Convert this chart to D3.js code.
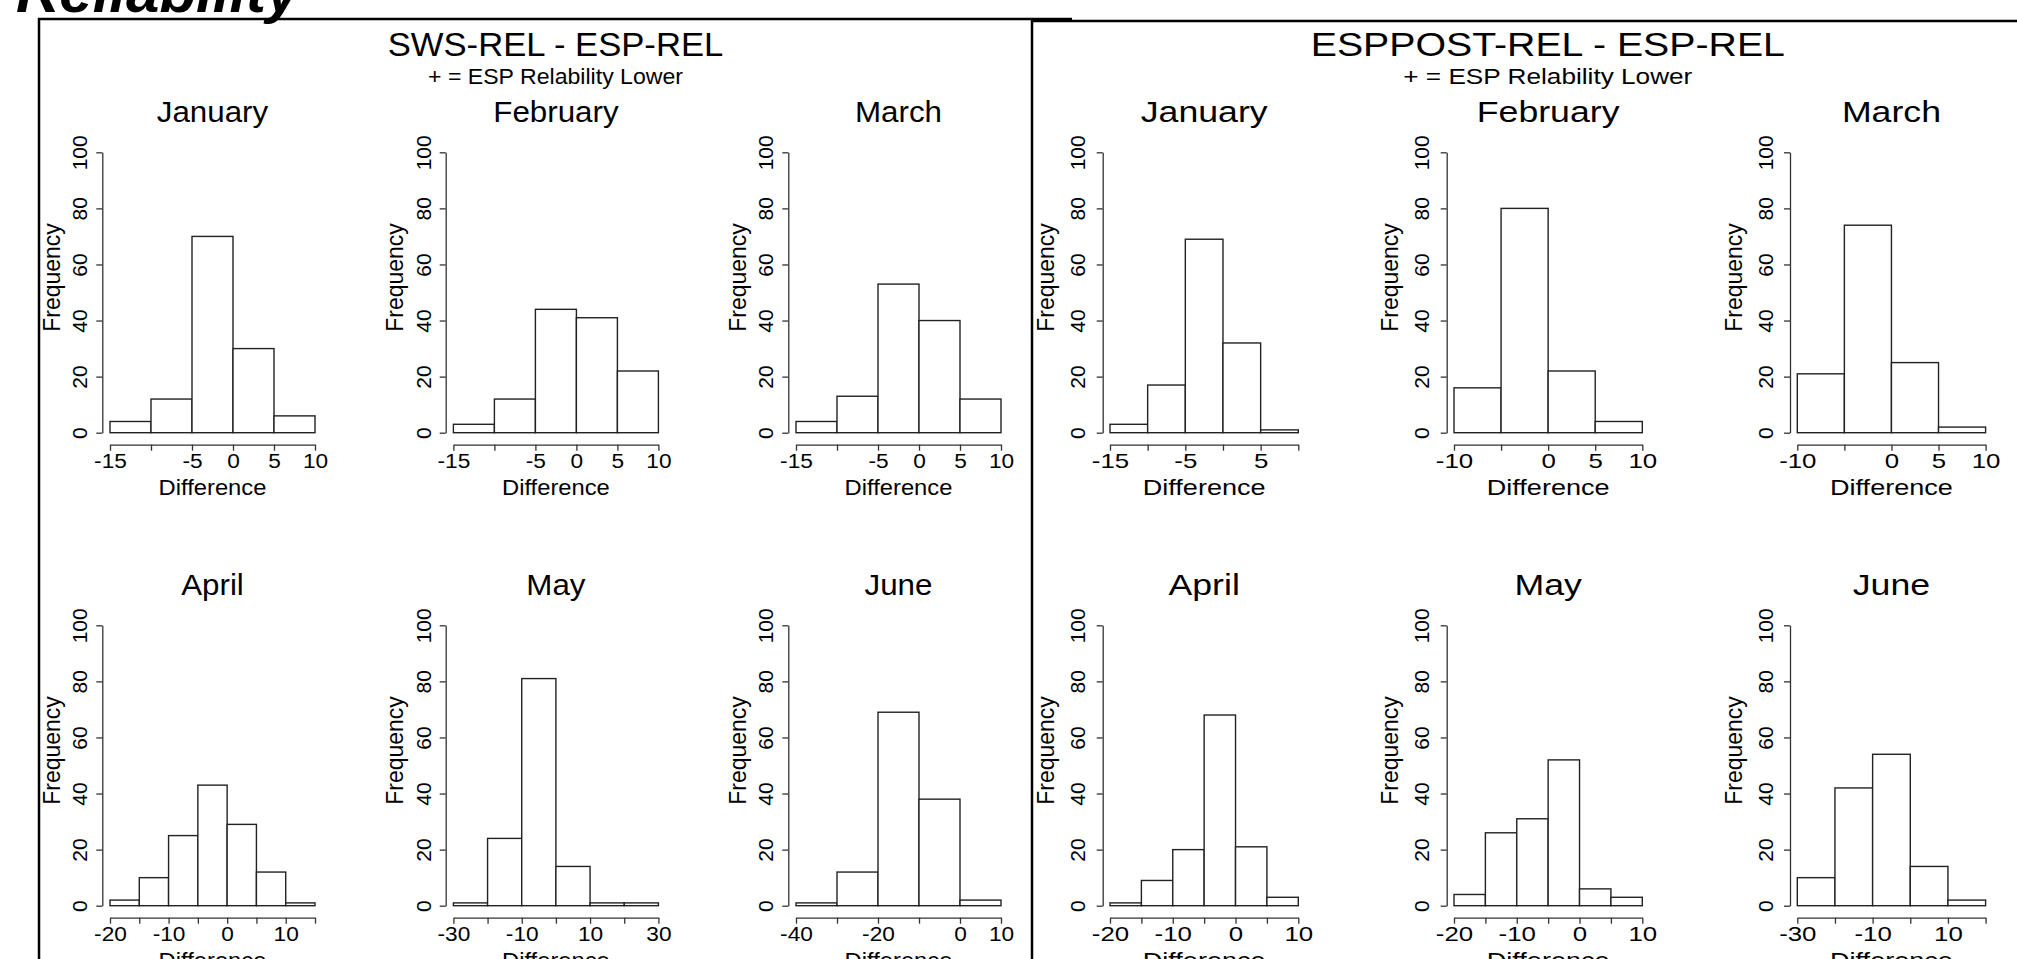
<!DOCTYPE html>
<html lang="en">
<head>
<meta charset="UTF-8">
<title>Reliability</title>
<style>
  * { margin: 0; padding: 0; }
  body { background: #fff; overflow: hidden; }
  svg { display: block; font-family: 'Liberation Sans', Arial, Helvetica, sans-serif; }
</style>
</head>
<body>
<div id="chart"></div>
<script src="https://cdn.jsdelivr.net/npm/d3@7"></script>
<script>
const months = ['January', 'February', 'March', 'April', 'May', 'June']
const yTicks = [0, 20, 40, 60, 80, 100]

// SWS-REL - ESP-REL : bin edges, counts, labelled x ticks
const swsBreaks = [
  [-15, -10, -5, 0, 5, 10],
  [-15, -10, -5, 0, 5, 10],
  [-15, -10, -5, 0, 5, 10],
  [-20, -15, -10, -5, 0, 5, 10, 15],
  [-30, -20, -10, 0, 10, 20, 30],
  [-40, -30, -20, -10, 0, 10]
]
const swsCounts = [
  [4, 12, 70, 30, 6],
  [3, 12, 44, 41, 22],
  [4, 13, 53, 40, 12],
  [2, 10, 25, 43, 29, 12, 1],
  [1, 24, 81, 14, 1, 1],
  [1, 12, 69, 38, 2]
]
const swsLabels = [
  [-15, -5, 0, 5, 10],
  [-15, -5, 0, 5, 10],
  [-15, -5, 0, 5, 10],
  [-20, -10, 0, 10],
  [-30, -10, 10, 30],
  [-40, -20, 0, 10]
]

// ESPPOST-REL - ESP-REL
const postBreaks = [
  [-15, -10, -5, 0, 5, 10],
  [-10, -5, 0, 5, 10],
  [-10, -5, 0, 5, 10],
  [-20, -15, -10, -5, 0, 5, 10],
  [-20, -15, -10, -5, 0, 5, 10],
  [-30, -20, -10, 0, 10, 20]
]
const postCounts = [
  [3, 17, 69, 32, 1],
  [16, 80, 22, 4],
  [21, 74, 25, 2],
  [1, 9, 20, 68, 21, 3],
  [4, 26, 31, 52, 6, 3],
  [10, 42, 54, 14, 2]
]
const postLabels = [
  [-15, -5, 5],
  [-10, 0, 5, 10],
  [-10, 0, 5, 10],
  [-20, -10, 0, 10],
  [-20, -10, 0, 10],
  [-30, -10, 10]
]

const width = 2017
const height = 959
const plotH = 280.4
const rowY0 = [432.7, 905.7]

const blocks = [
  { title: 'SWS-REL - ESP-REL', breaks: swsBreaks, counts: swsCounts, labels: swsLabels,
    axisX: [102.3, 445.7, 788.3], gap: 7.7, plotW: 205, sx: 1.08, tsx: 1.05, labOff: 15, freqOff: 42.5 },
  { title: 'ESPPOST-REL - ESP-REL', breaks: postBreaks, counts: postCounts, labels: postLabels,
    axisX: [1102.7, 1446.7, 1790], gap: 7.3, plotW: 188.3, sx: 1.23, tsx: 1.19, labOff: 17.5, freqOff: 48.5 }
]

let svg = d3.select('#chart')
  .append('svg')
  .attr('width', width)
  .attr('height', height)

svg.append('rect').attr('width', width).attr('height', height).attr('fill', '#fff')

// horizontal text, stretched sideways like the original
function label (g, str, cx, by, size, sx) {
  return g.append('text')
    .attr('transform', `translate(${cx},${by}) scale(${sx},1)`)
    .attr('text-anchor', 'middle')
    .attr('font-size', size)
    .attr('fill', '#000')
    .text(str)
}

// page heading, cut by the top edge
svg.append('text')
  .attr('x', 16).attr('y', 12)
  .attr('font-size', 60)
  .attr('font-style', 'italic')
  .attr('font-weight', 'bold')
  .text('Reliability')

// frames
svg.append('path')
  .attr('d', 'M39,959 V19 H1072')
  .attr('fill', 'none').attr('stroke', '#000').attr('stroke-width', 2.5)
svg.append('path')
  .attr('d', 'M1032,959 V21 H2017')
  .attr('fill', 'none').attr('stroke', '#000').attr('stroke-width', 2.5)

function hist (g, b, i) {
  const col = i % 3
  const row = Math.floor(i / 3)
  const breaks = b.breaks[i]
  const counts = b.counts[i]
  const labs = b.labels[i]
  const ax = b.axisX[col]
  const x0 = ax + b.gap
  const y0 = rowY0[row]

  const x = d3.scaleLinear()
    .domain([breaks[0], breaks[breaks.length - 1]])
    .range([x0, x0 + b.plotW])
  const y = d3.scaleLinear()
    .domain([0, 100])
    .range([y0, y0 - plotH])

  const bins = counts.map((n, k) => ({ a: breaks[k], b: breaks[k + 1], n: n }))

  g.append('g')
    .selectAll('rect')
    .data(bins)
    .join('rect')
    .attr('x', d => x(d.a))
    .attr('width', d => x(d.b) - x(d.a))
    .attr('y', d => y(d.n))
    .attr('height', d => y(0) - y(d.n))
    .attr('fill', '#fff')
    .attr('stroke', '#222')
    .attr('stroke-width', 1.4)

  // x axis
  const gx = g.append('g')
    .attr('transform', `translate(0,${y0 + 12})`)
    .call(d3.axisBottom(x)
      .tickValues(breaks)
      .tickSize(6)
      .tickSizeOuter(0)
      .tickFormat(d => labs.includes(d) ? String(d) : ''))
  gx.attr('font-size', null).attr('font-family', null)
  gx.selectAll('path, line').attr('stroke', '#333').attr('stroke-width', 1.3)
  gx.selectAll('text')
    .attr('y', 0).attr('dy', null)
    .attr('transform', `translate(0,23.3) scale(${b.sx},1)`)
    .attr('font-size', 21)
    .attr('fill', '#000')

  // y axis
  const gy = g.append('g')
    .attr('transform', `translate(${ax},0)`)
    .call(d3.axisLeft(y)
      .tickValues(yTicks)
      .tickSize(6)
      .tickSizeOuter(0))
  gy.attr('font-size', null).attr('font-family', null)
  gy.selectAll('path, line').attr('stroke', '#333').attr('stroke-width', 1.3)
  gy.selectAll('text')
    .attr('x', 0).attr('dy', null)
    .attr('transform', `translate(${-b.labOff},0) rotate(-90)`)
    .attr('text-anchor', 'middle')
    .attr('font-size', 21)
    .attr('fill', '#000')

  const cx = x0 + b.plotW / 2
  label(g, months[i], cx, y(100) - 30.6, 29, b.sx)
  label(g, 'Difference', cx, y0 + 62.3, 22, b.sx)

  g.append('text')
    .attr('transform', `translate(${ax - b.freqOff},${(y(0) + y(100)) / 2 - 15}) rotate(-90)`)
    .attr('text-anchor', 'middle')
    .attr('font-size', 23)
    .text('Frequency')
}

blocks.forEach(b => {
  let g = svg.append('g')
  const mid = (b.axisX[0] + b.gap + b.axisX[2] + b.gap + b.plotW) / 2
  label(g, b.title, mid, 56, 33, b.tsx)
  label(g, '+ = ESP Relability Lower', mid, 84, 22, b.tsx)
  months.forEach((m, i) => hist(g, b, i))
})
</script>
</body>
</html>
